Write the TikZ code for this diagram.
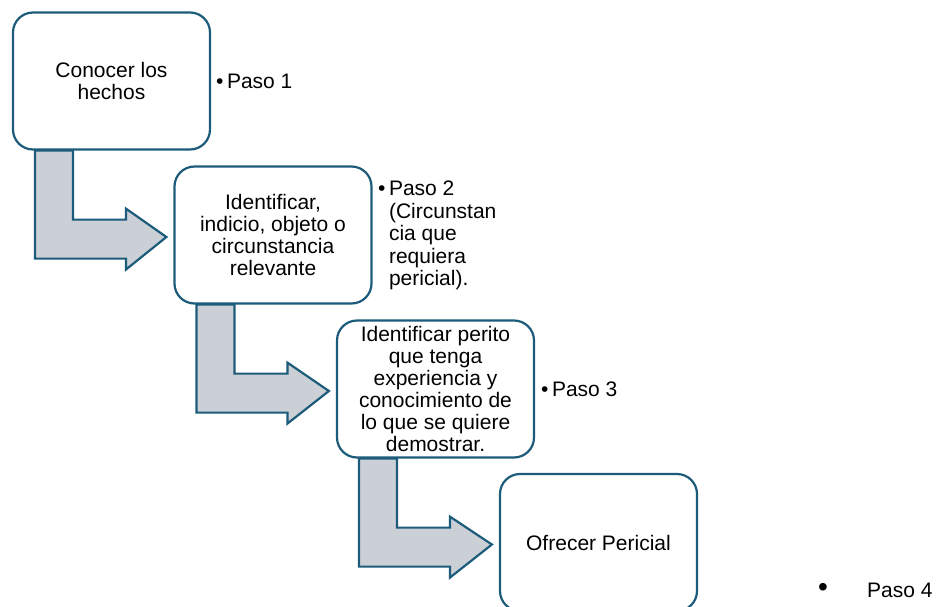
\documentclass[tikz,border=0pt]{standalone}
\usepackage{fontspec}
\setmainfont{Liberation Sans}
\usetikzlibrary{calc}
\definecolor{edge}{HTML}{1D5B7A}
\definecolor{arrfill}{HTML}{CBD0D7}
\tikzset{
  stepbox/.style={draw=edge, line width=2.2pt, fill=white, rounded corners=20pt,
    minimum width=197pt, minimum height=137pt, align=center, inner sep=2pt,
    font=\fontsize{21}{22}\selectfont},
  bentarrow/.style={draw=edge, line width=2.2pt, fill=arrfill, line join=miter},
  steptext/.style={font=\fontsize{21}{22.5}\selectfont, align=left, inner sep=0pt}
}
\begin{document}
\begin{tikzpicture}[x=1pt, y=-1pt]
\useasboundingbox (0,0) rectangle (947,607);
% box centres
\coordinate (c1) at (111.5,81);
\coordinate (c2) at (273,235);
\coordinate (c3) at (435.5,389);
\coordinate (c4) at (598.5,542.5);
% invisible helper nodes to compute arrows
\node[stepbox, draw=none, fill=none] (h1) at (c1) {};
\node[stepbox, draw=none, fill=none] (h2) at (c2) {};
\node[stepbox, draw=none, fill=none] (h3) at (c3) {};
\node[stepbox, draw=none, fill=none] (h4) at (c4) {};
% arrows
\foreach \a/\b in {h1/h2, h2/h3, h3/h4}{
  \draw[bentarrow]
    ($(\a.south west)+(23,0)$) --
    ($(\a.south west)+(61,0)$) --
    ($(\a.south west)+(61,69)$) --
    ($(\a.south west)+(114,69)$) --
    ($(\a.south west)+(114,58)$) --
    ($(\b.west)+(-7,2)$) --
    ($(\a.south west)+(114,119)$) --
    ($(\a.south west)+(114,108)$) --
    ($(\a.south west)+(23,108)$) -- cycle;
}
% boxes
\node[stepbox] (b1) at (c1) {Conocer los\\hechos};
\node[stepbox] (b2) at (c2) {Identificar,\\indicio, objeto o\\circunstancia\\relevante};
\node[stepbox] (b3) at (c3) {Identificar perito\\que tenga\\experiencia y\\conocimiento de\\lo que se quiere\\demostrar.};
\node[stepbox] (b4) at (c4) {Ofrecer Pericial};
% labels
\node[steptext, anchor=west] (p1) at (216,81) {•\,Paso 1};
\node[steptext, anchor=north west] (p2) at (378,180)
  {\begin{tabular}{@{}l@{\,}l@{}}•&Paso 2\\&(Circunstan\\&cia que\\&requiera\\&pericial).\end{tabular}};
\node[steptext, anchor=west] (p3) at (541,389) {•\,Paso 3};
\node[font=\fontsize{28}{28}\selectfont, inner sep=0pt] (bul4) at (823,590) {•};
\node[steptext, anchor=west] (p4) at (867,590) {Paso 4};
\end{tikzpicture}
\end{document}
